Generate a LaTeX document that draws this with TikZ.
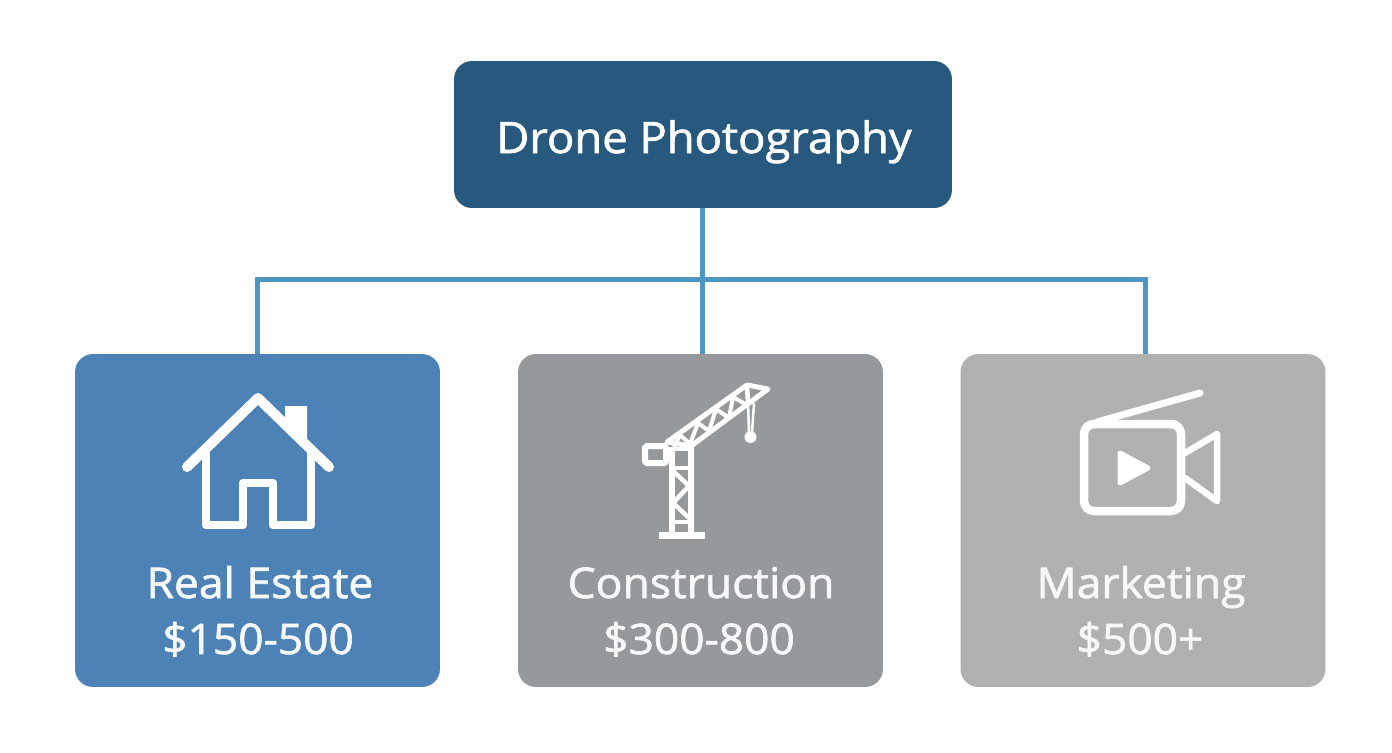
\documentclass[tikz,border=0pt]{standalone}
\usepackage{fontspec}
\setmainfont{Open Sans}[FakeBold=1.5,FakeStretch=1.05]
\usetikzlibrary{calc}
\definecolor{pagewhite}{HTML}{FDFDFD}
\definecolor{topblue}{HTML}{27597F}
\definecolor{linkblue}{HTML}{4F97C3}
\definecolor{realblue}{HTML}{4C82B5}
\definecolor{buildgray}{HTML}{96999C}
\definecolor{mediagray}{HTML}{B0B2B2}
\definecolor{textwhite}{HTML}{F6F8FA}
\tikzstyle{topbox}=[
  fill=topblue,
  rounded corners=0.36cm,
  minimum width=9.96cm,
  minimum height=2.94cm
]
\tikzstyle{toptext}=[
  anchor=base,
  text=white,
  font=\fontsize{24.6}{30}\selectfont
]
\tikzstyle{jobbox}=[
  rounded corners=0.36cm,
  minimum width=7.3cm,
  minimum height=6.66cm
]
\tikzstyle{jobname}=[
  anchor=base,
  text=textwhite,
  font=\fontsize{24.1}{28}\selectfont
]
\tikzstyle{jobprice}=[
  anchor=base,
  text=textwhite,
  font=\fontsize{24}{28}\selectfont
]
\tikzstyle{link}=[
  draw=linkblue,
  line width=0.1cm
]
\tikzstyle{icon}=[
  draw=white,
  line width=0.17cm,
  line join=round,
  line cap=round
]
\tikzstyle{thinicon}=[
  draw=white,
  line width=0.09cm,
  line join=round
]

\begin{document}
\begin{tikzpicture}[x=0.02cm, y=-0.02cm]
  \fill[pagewhite] (0,0) rectangle (1392,752);

  \node[topbox] (drone) at (703, 134.5) {};
  \node[toptext] (dronename) at (704, 153) {Drone Photography};
  \node[jobbox, fill=realblue ] (real)   at (257.5, 520.5) {};
  \node[jobbox, fill=buildgray] (build)  at (700.5, 520.5) {};
  \node[jobbox, fill=mediagray] (media)  at (1143,  520.5) {};

  \coordinate (hub) at (702, 279);
  \draw[link] (drone.south -| hub) -- (hub);
  \draw[link] (hub) -- (hub |- build.north);
  \draw[link] (real.north) |- (hub);
  \draw[link] ([xshift=0.04cm]media.north) |- (hub);

  \node[jobname]  (realname)   at (260,  598) {Real Estate};
  \node[jobprice] (realprice)  at (258,  654) {\$150-500};
  \node[jobname]  (buildname)  at (701,  598) {Construction};
  \node[jobprice] (buildprice) at (699,  654) {\$300-800};
  \node[jobname]  (medianame)  at (1141, 598) {Marketing};
  \node[jobprice] (mediaprice) at (1140, 654) {\$500+};

  % house
  \fill[white] (285,406) -- (307,406) -- (307,440) -- (285,420) -- cycle;
  \draw[icon, line width=0.2cm] (187,467) -- (258,398) -- (329,467);
  \draw[icon] (206,450) -- (206,525) -- (243,525) -- (243,483)
              -- (273,483) -- (273,525) -- (311,525) -- (311,450);

  % crane
  \draw[thinicon, line width=0.11cm] (672,447) -- (672,534);
  \draw[thinicon, line width=0.11cm] (691,447) -- (691,534);
  \fill[white] (659,532) rectangle (705,539);
  \draw[thinicon] (672,449) -- (691,449);
  \draw[thinicon] (672,468) -- (691,468);
  \draw[thinicon] (672,522) -- (691,522);
  \draw[thinicon] (672,470) -- (689,486) -- (673,503) -- (689,518);
  \draw[thinicon, line width=0.1cm] (667,442) -- (747,385) -- (768,389) -- (691,446) -- cycle;
  \draw[thinicon] (748,403) -- (747,385);
  \draw[thinicon, line width=0.08cm] (674,447) -- (680,435) -- (690,444)
              -- (698,423) -- (709,431) -- (716,409) -- (729,418) -- (733,397)
              -- (747,405);
  \draw[thinicon, line width=0.12cm, rounded corners=0.04cm] (645,446) rectangle (666,463);
  \draw[thinicon, line width=0.05cm] (748,403) -- (749,432);
  \draw[thinicon, line width=0.05cm] (754,403) -- (752,432);
  \fill[white] (750.5,437) circle (6);

  % camera
  \draw[icon, rounded corners=0.2cm] (1084,424) rectangle (1181,511);
  \draw[icon, line width=0.13cm] (1185,453) -- (1217,434) -- (1217,501) -- (1185,478);
  \draw[icon, line width=0.14cm] (1097,422) -- (1200,393);
  \filldraw[white, line width=0.1cm, line join=round] (1120,453) -- (1148,468) -- (1120,483) -- cycle;
\end{tikzpicture}
\end{document}
